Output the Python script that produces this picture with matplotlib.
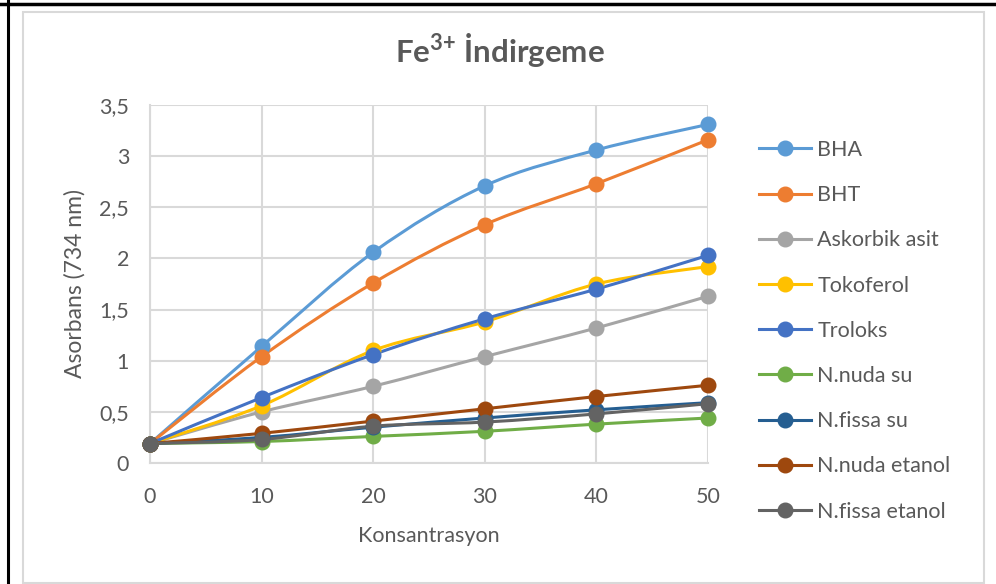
import numpy as np
import matplotlib.pyplot as plt
from matplotlib.path import Path
from matplotlib.patches import PathPatch, Rectangle
from matplotlib.lines import Line2D

plt.rcParams['font.family'] = ['Lato', 'DejaVu Sans']
plt.rcParams['mathtext.fontset'] = 'custom'
plt.rcParams['mathtext.rm'] = 'Lato'
plt.rcParams['mathtext.bf'] = 'Lato:bold'

konsantrasyon = [0, 10, 20, 30, 40, 50]

bha = [0.19, 1.14, 2.06, 2.71, 3.06, 3.31]
bht = [0.19, 1.04, 1.76, 2.33, 2.73, 3.16]
askorbik = [0.19, 0.50, 0.75, 1.04, 1.32, 1.63]
tokoferol = [0.19, 0.56, 1.10, 1.38, 1.75, 1.92]
troloks = [0.19, 0.64, 1.06, 1.41, 1.70, 2.03]
nuda_su = [0.19, 0.21, 0.26, 0.31, 0.38, 0.44]
fissa_su = [0.19, 0.25, 0.35, 0.44, 0.52, 0.59]
nuda_etanol = [0.19, 0.29, 0.41, 0.53, 0.65, 0.76]
fissa_etanol = [0.19, 0.23, 0.36, 0.40, 0.48, 0.58]

labels = ['BHA', 'BHT', 'Askorbik asit', 'Tokoferol', 'Troloks',
          'N.nuda su', 'N.fissa su', 'N.nuda etanol', 'N.fissa etanol']
colors = ['#5B9BD5', '#ED7D31', '#A5A5A5', '#FFC000', '#4472C4',
          '#70AD47', '#255E91', '#9E480E', '#636363']
series = [bha, bht, askorbik, tokoferol, troloks,
          nuda_su, fissa_su, nuda_etanol, fissa_etanol]


def smooth_path(xs, ys):
    # excel-like smoothed line: bezier segments through the points
    pts = np.column_stack([xs, ys]).astype(float)
    n = len(pts)
    verts = [pts[0]]
    codes = [Path.MOVETO]
    for i in range(n - 1):
        p0 = pts[max(i - 1, 0)]
        p1 = pts[i]
        p2 = pts[i + 1]
        p3 = pts[min(i + 2, n - 1)]
        c1 = p1 + (p2 - p0) / 6
        c2 = p2 - (p3 - p1) / 6
        verts += [c1, c2, p2]
        codes += [Path.CURVE4] * 3
    return Path(verts, codes)


fig = plt.figure(figsize=(9.96, 5.84), dpi=100)
ax = fig.add_axes([150 / 996, 1 - 463 / 584, 558 / 996, 358 / 584])

# outer frames
fig.patches.append(Rectangle((23 / 996, 1 / 584), 961 / 996, 571 / 584, transform=fig.transFigure,
                             fill=False, edgecolor='#D9D9D9', linewidth=1.5))
fig.add_artist(Line2D([8 / 996, 8 / 996], [0, 1], color='black', linewidth=2.2))
fig.add_artist(Line2D([0, 1], [1 - 4 / 584, 1 - 4 / 584], color='black', linewidth=2.5))

handles = []
for vals, lab, col in zip(series, labels, colors):
    patch = PathPatch(smooth_path(konsantrasyon, vals), facecolor='none', edgecolor=col,
                      linewidth=2.2, capstyle='round', joinstyle='round', zorder=3)
    ax.add_patch(patch)
    ax.plot(konsantrasyon, vals, linestyle='none', marker='o', markersize=10.5,
            color=col, zorder=4, clip_on=False)
    handles.append(Line2D([], [], color=col, linewidth=2.2, marker='o', markersize=10.5))

ax.set_xlim(0, 50)
ax.set_ylim(0, 3.5)
ax.set_xticks(konsantrasyon)
ax.set_yticks([0, 0.5, 1, 1.5, 2, 2.5, 3, 3.5])
ax.set_yticklabels(['0', '0,5', '1', '1,5', '2', '2,5', '3', '3,5'])
ax.grid(True, color='#D9D9D9', linewidth=1.5)
ax.set_axisbelow(True)
for s in ax.spines.values():
    s.set_visible(False)
ax.spines['left'].set_visible(True)
ax.spines['bottom'].set_visible(True)
ax.spines['left'].set_color('#D9D9D9')
ax.spines['bottom'].set_color('#D9D9D9')
ax.spines['left'].set_linewidth(1.5)
ax.spines['bottom'].set_linewidth(1.5)
ax.tick_params(length=0, labelsize=15.5, labelcolor='#595959')
ax.tick_params(axis='x', pad=17)
ax.tick_params(axis='y', pad=15)

ax.set_xlabel('Konsantrasyon', fontsize=15.5, color='#595959', labelpad=14)
ax.set_ylabel('Asorbans (734 nm)', fontsize=16.5, color='#595959', labelpad=10)

fig.text(500 / 996, 1 - 50 / 584, r'Fe$^{\mathbf{3{+}}}$ İndirgeme', ha='center', va='center',
         fontsize=22.5, fontweight='bold', color='#595959')

fig.legend(handles, labels, loc='upper left', bbox_to_anchor=(759 / 996, 1 - 140 / 584),
           bbox_transform=fig.transFigure, frameon=False, fontsize=15.5,
           labelcolor='#595959', handlelength=2.4, handletextpad=0.3, labelspacing=1.17,
           borderaxespad=0, borderpad=0)

fig.savefig('out.png', dpi=100)
